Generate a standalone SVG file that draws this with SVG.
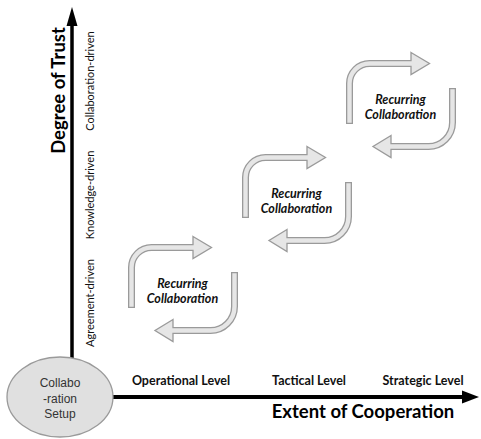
<svg xmlns="http://www.w3.org/2000/svg" xmlns:xlink="http://www.w3.org/1999/xlink" width="481" height="439" viewBox="0 0 481 439">
<style>
.so{fill:none;stroke:#9a9a9a;stroke-width:7}
.si{fill:none;stroke:#e6e6e6;stroke-width:4.4}
.hd{fill:#e6e6e6;stroke:#9a9a9a;stroke-width:1.3;stroke-linejoin:miter}
.hf{fill:#e6e6e6}
.rc{font-family:Lato,"Open Sans",sans-serif;font-weight:bold;font-style:italic;font-size:12.5px;fill:#111;text-anchor:middle}
.lv{font-family:Lato,"Open Sans",sans-serif;font-weight:bold;font-size:12.5px;fill:#111;text-anchor:middle}
.ax{font-family:Lato,"Open Sans",sans-serif;font-weight:bold;font-size:18.5px;fill:#000;text-anchor:middle}
.tr{font-family:Lato,"Open Sans",sans-serif;font-size:11px;fill:#111;text-anchor:middle}
.el{font-family:"Liberation Sans",Arial,sans-serif;font-size:12px;fill:#333;text-anchor:middle}
</style>
<defs>
<g id="cycle">
<path class="so" d="M131.5,308 V267.5 A20,20 0 0 1 151.5,247.5 H193.5"/>
<polygon class="hd" points="193,236.5 211.5,247.5 193,258.5"/>
<path class="si" d="M131.5,306.8 V267.5 A20,20 0 0 1 151.5,247.5 H194.5"/>
<path class="so" d="M234.5,272 V306.5 A24,24 0 0 1 210.5,330.5 H172.5"/>
<polygon class="hd" points="173,319.5 155,330.5 173,341.5"/>
<path class="si" d="M234.5,273.2 V306.5 A24,24 0 0 1 210.5,330.5 H171.5"/>
</g>
</defs>
<g id="connectors">
<line x1="72" y1="358" x2="72" y2="24" stroke="#000" stroke-width="3.5"/>
<polygon points="72,7 66.5,26 77.5,26" fill="#000"/>
<line x1="112" y1="397" x2="464" y2="397" stroke="#000" stroke-width="4"/>
<polygon points="479,397 462,390.5 462,403.5" fill="#000"/>
</g>
<g id="axis-labels">
<text class="ax" transform="translate(65,90.5) rotate(-90)">Degree of Trust</text>
<text class="ax" x="363" y="418">Extent of Cooperation</text>
<text class="tr" transform="translate(94,81) rotate(-90)">Collaboration-driven</text>
<text class="tr" transform="translate(94,195) rotate(-90)">Knowledge-driven</text>
<text class="tr" transform="translate(94,303) rotate(-90)">Agreement-driven</text>
<text class="lv" x="181" y="385">Operational Level</text>
<text class="lv" x="309" y="385">Tactical Level</text>
<text class="lv" x="423" y="385">Strategic Level</text>
</g>
<g id="setup">
<ellipse cx="60" cy="397" rx="53" ry="40" fill="#e0e0e0" stroke="#9a9a9a" stroke-width="1.3"/>
<text class="el" x="60" y="387">Collabo</text>
<text class="el" x="60" y="403">-ration</text>
<text class="el" x="60" y="418">Setup</text>
</g>
<g id="recurring-1">
<use xlink:href="#cycle"/>
<text class="rc" x="182.5" y="288">Recurring</text>
<text class="rc" x="182.5" y="303">Collaboration</text>
</g>
<g id="recurring-2" transform="translate(114,-90)">
<use xlink:href="#cycle"/>
<text class="rc" x="182.5" y="288">Recurring</text>
<text class="rc" x="182.5" y="303">Collaboration</text>
</g>
<g id="recurring-3" transform="translate(218,-184)">
<use xlink:href="#cycle"/>
<text class="rc" x="182.5" y="288">Recurring</text>
<text class="rc" x="182.5" y="303">Collaboration</text>
</g>
</svg>
